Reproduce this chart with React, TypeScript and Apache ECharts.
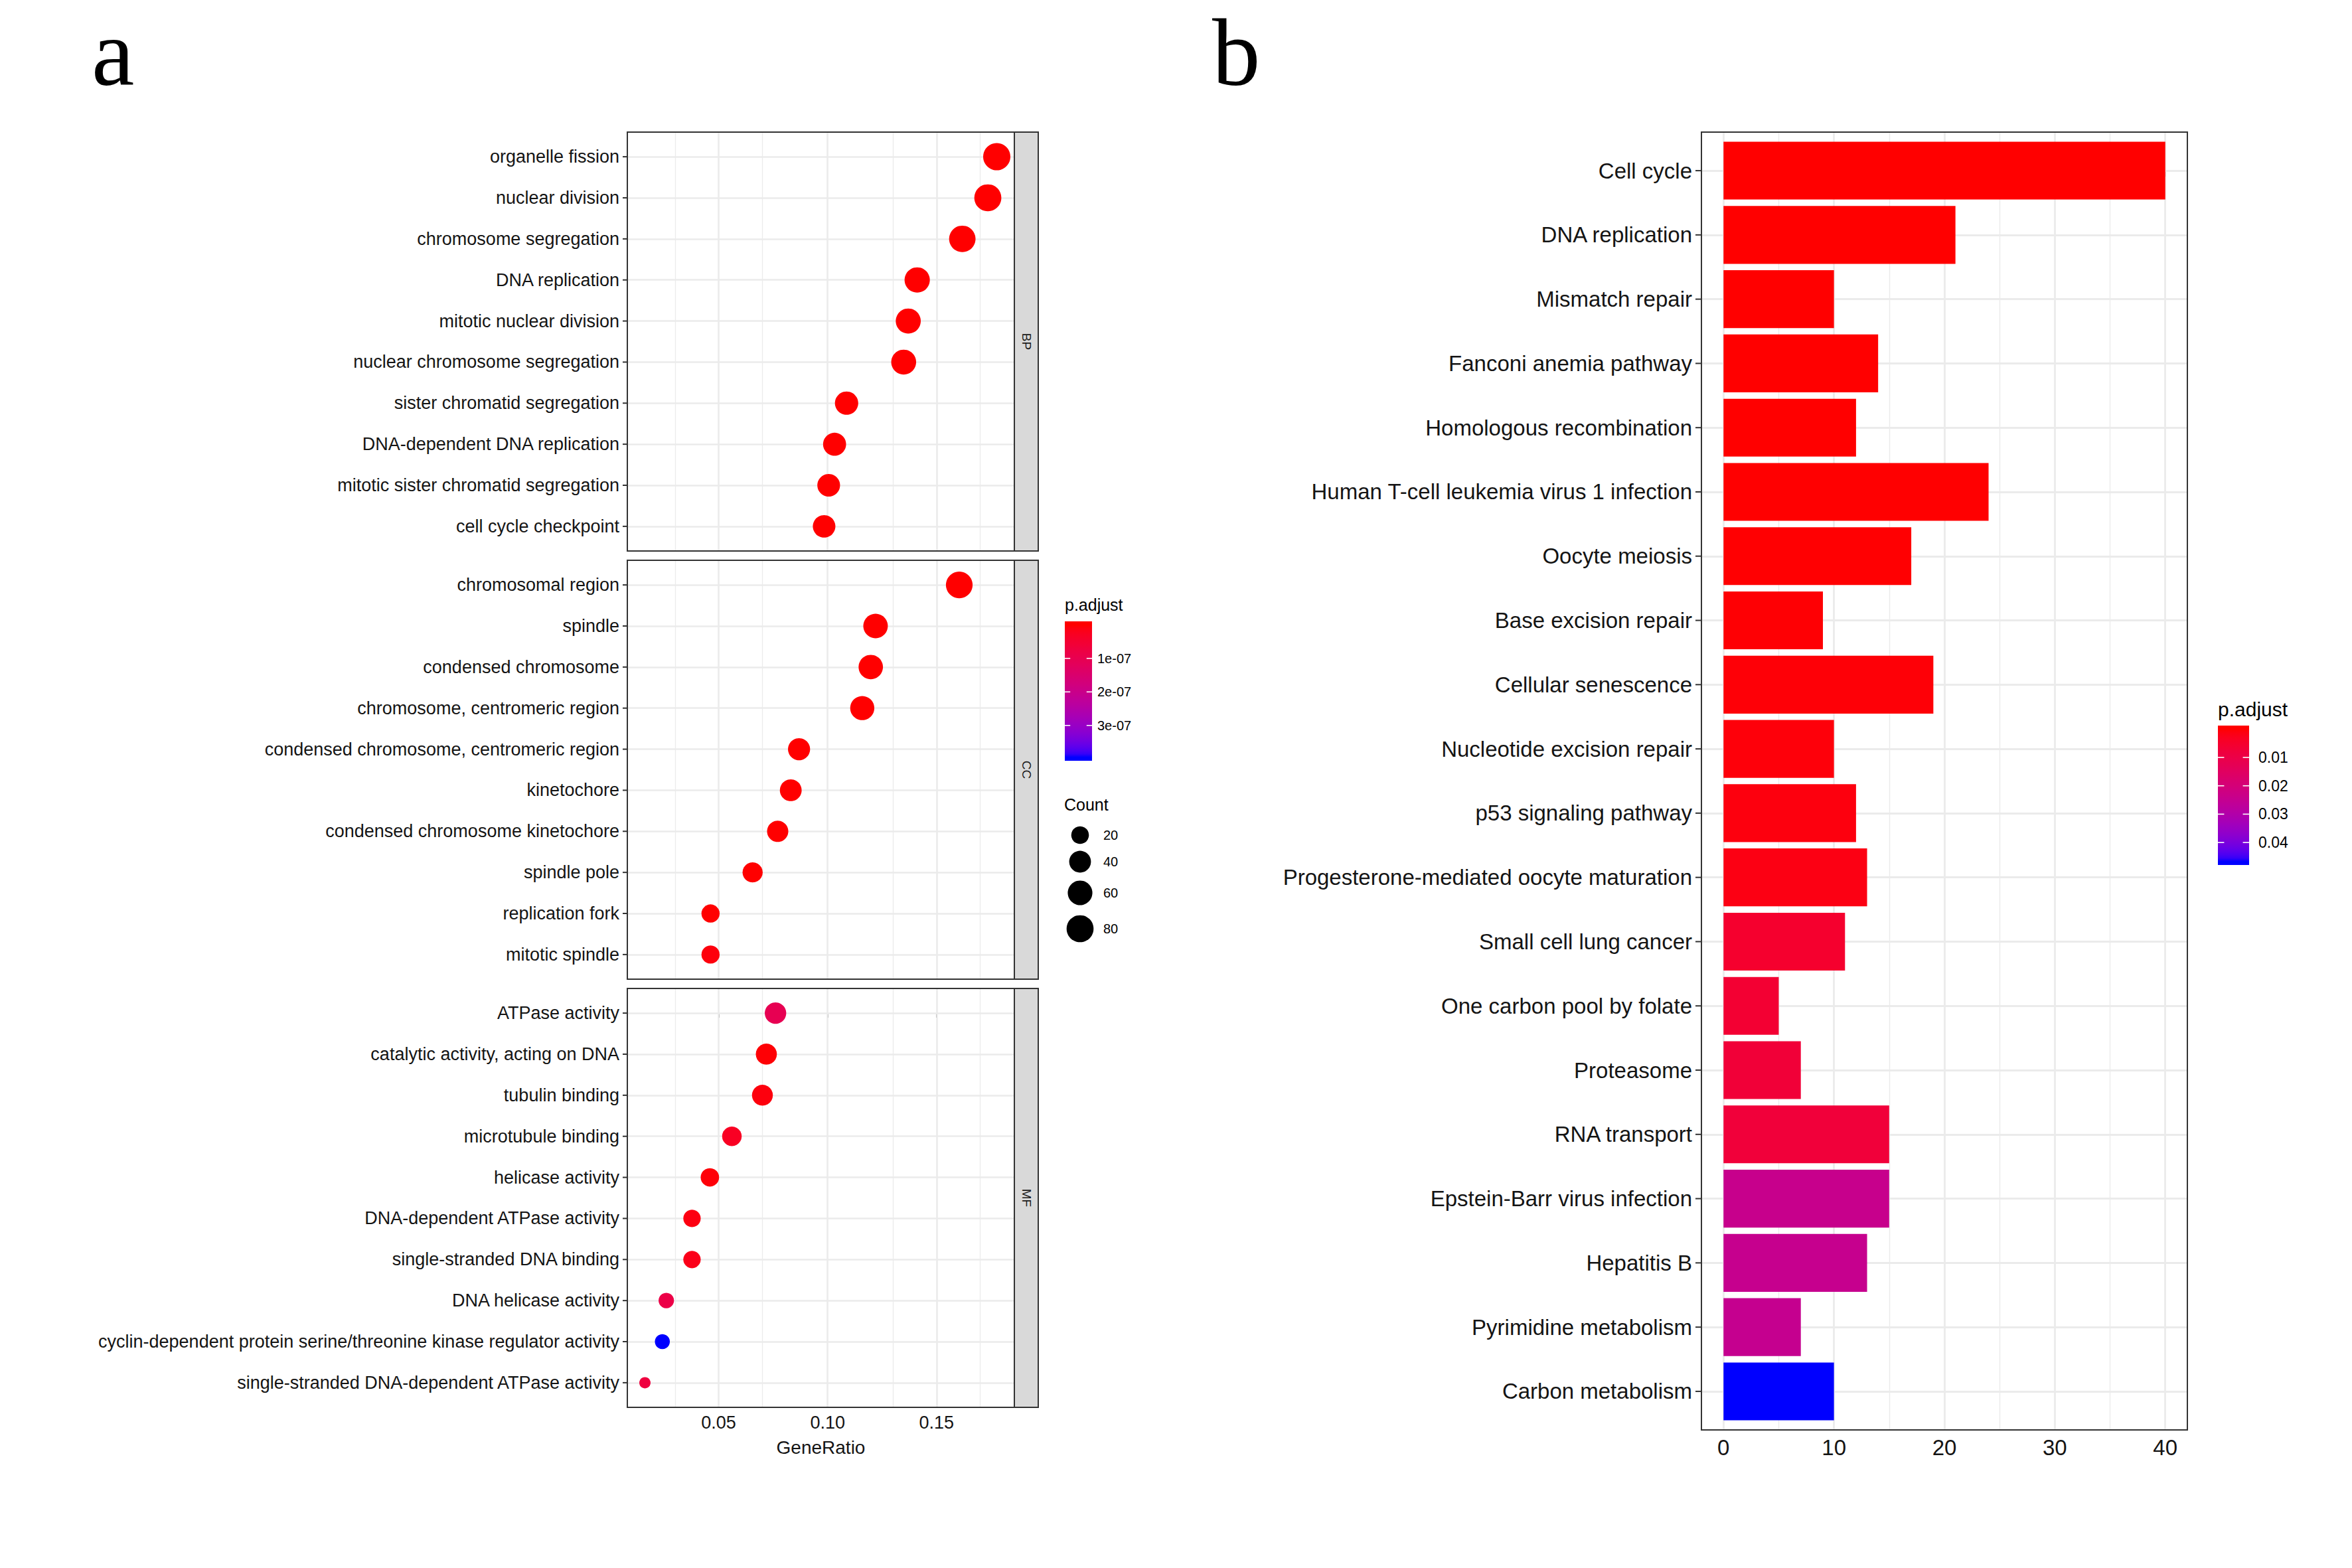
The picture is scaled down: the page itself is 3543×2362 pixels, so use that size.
import React, { useEffect, useRef } from "react";
import * as echarts from "echarts";

// ---------------- Data ----------------
const bpTerms = [
  "organelle fission",
  "nuclear division",
  "chromosome segregation",
  "DNA replication",
  "mitotic nuclear division",
  "nuclear chromosome segregation",
  "sister chromatid segregation",
  "DNA-dependent DNA replication",
  "mitotic sister chromatid segregation",
  "cell cycle checkpoint",
];
const bpGeneRatio = [0.1776, 0.1735, 0.1618, 0.1411, 0.137, 0.1349, 0.1087, 0.1032, 0.1005, 0.0984];
const bpCount = [82, 80, 75, 65, 63, 62, 50, 48, 46, 45];
const bpPadj = [2.1e-35, 3.5e-34, 1.2e-33, 4.4e-30, 6.8e-28, 1.5e-27, 3.3e-22, 2.8e-20, 7.1e-20, 5.2e-17];

const ccTerms = [
  "chromosomal region",
  "spindle",
  "condensed chromosome",
  "chromosome, centromeric region",
  "condensed chromosome, centromeric region",
  "kinetochore",
  "condensed chromosome kinetochore",
  "spindle pole",
  "replication fork",
  "mitotic spindle",
];
const ccGeneRatio = [0.1604, 0.122, 0.1198, 0.1159, 0.0869, 0.0831, 0.0771, 0.0656, 0.0463, 0.0463];
const ccCount = [77, 59, 58, 56, 42, 40, 37, 31, 22, 22];
const ccPadj = [8.9e-31, 2.4e-21, 4.6e-22, 1.9e-23, 3.1e-18, 6.5e-17, 2.2e-16, 4.7e-12, 1.3e-12, 8.1e-9];

const mfTerms = [
  "ATPase activity",
  "catalytic activity, acting on DNA",
  "tubulin binding",
  "microtubule binding",
  "helicase activity",
  "DNA-dependent ATPase activity",
  "single-stranded DNA binding",
  "DNA helicase activity",
  "cyclin-dependent protein serine/threonine kinase regulator activity",
  "single-stranded DNA-dependent ATPase activity",
];
const mfGeneRatio = [0.0761, 0.0719, 0.0701, 0.0561, 0.046, 0.0378, 0.0378, 0.026, 0.0242, 0.0162];
const mfCount = [38, 36, 35, 28, 23, 19, 19, 13, 12, 8];
const mfPadj = [1.02e-7, 3.2e-9, 8.4e-9, 3.0e-8, 5.5e-9, 1.2e-8, 1.9e-8, 8.4e-8, 3.95e-7, 7.0e-8];

const keggTerms = [
  "Cell cycle",
  "DNA replication",
  "Mismatch repair",
  "Fanconi anemia pathway",
  "Homologous recombination",
  "Human T-cell leukemia virus 1 infection",
  "Oocyte meiosis",
  "Base excision repair",
  "Cellular senescence",
  "Nucleotide excision repair",
  "p53 signaling pathway",
  "Progesterone-mediated oocyte maturation",
  "Small cell lung cancer",
  "One carbon pool by folate",
  "Proteasome",
  "RNA transport",
  "Epstein-Barr virus infection",
  "Hepatitis B",
  "Pyrimidine metabolism",
  "Carbon metabolism",
];
const keggCount = [40, 21, 10, 14, 12, 24, 17, 9, 19, 10, 12, 13, 11, 5, 7, 15, 15, 13, 7, 10];
const keggPadj = [
  2.0e-12, 1.5e-9, 8.0e-7, 6.0e-6, 1.5e-5, 4.0e-5, 1.6e-4, 3.5e-4, 5.5e-4, 7.5e-4,
  1.1e-3, 1.6e-3, 5.4e-3, 6.2e-3, 7.2e-3, 7.5e-3, 2.42e-2, 2.45e-2, 2.48e-2, 4.67e-2,
];

const geneRatioTicks = [0.05, 0.1, 0.15];
const geneRatioMinor = [0.025, 0.075, 0.125, 0.175];
const keggCountTicks = [0, 10, 20, 30, 40];
const keggCountMinor = [5, 15, 25, 35];
const goPadjTicks = [1e-7, 2e-7, 3e-7];
const goPadjTickLabels = ["1e-07", "2e-07", "3e-07"];
const keggPadjTicks = [0.01, 0.02, 0.03, 0.04];
const keggPadjTickLabels = ["0.01", "0.02", "0.03", "0.04"];
const countLegendValues = [20, 40, 60, 80];
const stripLabels = ["BP", "CC", "MF"];

// ---------------- Colour helpers (Lab interpolation like ggplot) ----------------
function srgbToLin(c: number) {
  c /= 255;
  return c <= 0.04045 ? c / 12.92 : Math.pow((c + 0.055) / 1.055, 2.4);
}
function linToSrgb(v: number) {
  v = Math.min(1, Math.max(0, v));
  const s = v <= 0.0031308 ? 12.92 * v : 1.055 * Math.pow(v, 1 / 2.4) - 0.055;
  return Math.round(Math.min(1, Math.max(0, s)) * 255);
}
const XN = 0.95047, YN = 1.0, ZN = 1.08883;
const fLab = (t: number) => (t > 0.008856 ? Math.cbrt(t) : 7.787 * t + 16 / 116);
const fInv = (t: number) => (t > 0.206893 ? t * t * t : (t - 16 / 116) / 7.787);
function hexToLab(h: string) {
  const n = parseInt(h.slice(1), 16);
  const R = srgbToLin((n >> 16) & 255), G = srgbToLin((n >> 8) & 255), B = srgbToLin(n & 255);
  const X = 0.4124 * R + 0.3576 * G + 0.1805 * B;
  const Y = 0.2126 * R + 0.7152 * G + 0.0722 * B;
  const Z = 0.0193 * R + 0.1192 * G + 0.9505 * B;
  const fx = fLab(X / XN), fy = fLab(Y / YN), fz = fLab(Z / ZN);
  return [116 * fy - 16, 500 * (fx - fy), 200 * (fy - fz)];
}
function labToHex(L: number, a: number, b: number) {
  const fy = (L + 16) / 116, fx = fy + a / 500, fz = fy - b / 200;
  const X = XN * fInv(fx), Y = YN * fInv(fy), Z = ZN * fInv(fz);
  const r = 3.2406 * X - 1.5372 * Y - 0.4986 * Z;
  const g = -0.9689 * X + 1.8758 * Y + 0.0415 * Z;
  const bb = 0.0557 * X - 0.204 * Y + 1.057 * Z;
  const hx = (v: number) => linToSrgb(v).toString(16).padStart(2, "0");
  return "#" + hx(r) + hx(g) + hx(bb);
}
function labRamp(from: string, to: string, n: number) {
  const A = hexToLab(from), B = hexToLab(to);
  const out: string[] = [];
  for (let i = 0; i < n; i++) {
    const t = i / (n - 1);
    out.push(labToHex(A[0] + (B[0] - A[0]) * t, A[1] + (B[1] - A[1]) * t, A[2] + (B[2] - A[2]) * t));
  }
  return out;
}
const RAMP = labRamp("#FF0000", "#0000FF", 41);

// ---------------- Layout ----------------
const W = 3543, H = 2362;
const SANS = "'Liberation Sans', Arial, Helvetica, sans-serif";
const SERIF = "'Liberation Serif', 'Times New Roman', serif";
const TXT = "#141414";
const BORDER = "#333333";
const GRIDC = "#EBEBEB";

const A_LEFT = 945, A_RIGHT = 1528, STRIP_R = 1564;
const A_TOPS = [199, 844, 1489];
const A_H = 631;
const B_LEFT = 2563, B_RIGHT = 3295, B_TOP = 199, B_BOTTOM = 2154;
const DISC_PAD = 0.6; // ggplot discrete expansion

const allCounts = [...bpCount, ...ccCount, ...mfCount];
const CMIN = Math.min(...allCounts), CMAX = Math.max(...allCounts);
const sizeOf = (c: number) => 17 + 24 * Math.sqrt(Math.max(0, c - CMIN) / (CMAX - CMIN));

const allRatios = [...bpGeneRatio, ...ccGeneRatio, ...mfGeneRatio];
const rMin = Math.min(...allRatios), rMax = Math.max(...allRatios);
const GR_MIN = rMin - 0.05 * (rMax - rMin), GR_MAX = rMax + 0.05 * (rMax - rMin);
const kMax = Math.max(...keggCount);
const KC_MIN = -0.05 * kMax, KC_MAX = kMax * 1.05;

const GO_PMAX = Math.max(...bpPadj, ...ccPadj, ...mfPadj);
const KEGG_PMAX = Math.max(...keggPadj);

const goPanels = [
  { terms: bpTerms, ratio: bpGeneRatio, count: bpCount, padj: bpPadj },
  { terms: ccTerms, ratio: ccGeneRatio, count: ccCount, padj: ccPadj },
  { terms: mfTerms, ratio: mfGeneRatio, count: mfCount, padj: mfPadj },
];

function gridLineSeries(axisIndex: number, lines: any[]) {
  return {
    type: "line",
    xAxisIndex: axisIndex,
    yAxisIndex: axisIndex,
    data: [],
    silent: true,
    z: 1,
    markLine: {
      silent: true,
      z: 1,
      symbol: ["none", "none"],
      label: { show: false },
      emphasis: { disabled: true },
      animation: false,
      data: lines,
    },
  };
}

// y-axis tick + label rendered through a scatter series at the axis position
function yLabelSeries(axisIndex: number, xMin: number, terms: string[], fontSize: number, tickLen: number, gap: number) {
  return {
    type: "scatter",
    xAxisIndex: axisIndex,
    yAxisIndex: axisIndex,
    silent: true,
    clip: false,
    z: 4,
    data: terms.map((_, i) => [xMin, i]),
    symbol: "rect",
    symbolSize: [tickLen, 2],
    symbolOffset: [-tickLen / 2, 0],
    itemStyle: { color: BORDER, opacity: 1 },
    label: {
      show: true,
      position: "left",
      distance: gap,
      formatter: (p: any) => terms[p.dataIndex],
      fontSize,
      fontFamily: SANS,
      color: TXT,
      opacity: 1,
    },
    emphasis: { disabled: true },
  };
}

function buildOption() {
  const grid: any[] = [];
  const xAxis: any[] = [];
  const yAxis: any[] = [];
  const series: any[] = [];
  const graphics: any[] = [];
  const scatterIdx: number[] = [];

  goPanels.forEach((p, k) => {
    const n = p.terms.length;
    grid.push({
      left: A_LEFT,
      top: A_TOPS[k],
      width: A_RIGHT - A_LEFT,
      height: A_H,
      containLabel: false,
      outerBoundsMode: "none",
    });
    const last = k === goPanels.length - 1;
    xAxis.push({
      type: "value",
      gridIndex: k,
      min: GR_MIN,
      max: GR_MAX,
      axisLine: { show: false },
      splitLine: { show: false },
      axisTick: {
        show: last,
        length: 7,
        lineStyle: { color: BORDER, width: 2 },
        customValues: geneRatioTicks,
      },
      axisLabel: {
        show: last,
        customValues: geneRatioTicks,
        fontSize: 27,
        color: TXT,
        margin: 9,
        fontFamily: SANS,
        formatter: (v: number) => (Math.abs(v / 0.05 - Math.round(v / 0.05)) < 1e-6 ? v.toFixed(2) : ""),
      },
    });
    yAxis.push({
      type: "value",
      gridIndex: k,
      inverse: true,
      min: -DISC_PAD,
      max: n - 1 + DISC_PAD,
      axisLine: { show: false },
      axisTick: { show: false },
      axisLabel: { show: false },
      splitLine: { show: false },
    });
    const lines: any[] = [];
    geneRatioMinor.forEach((v) => lines.push({ xAxis: v, lineStyle: { width: 1.3, color: GRIDC, type: "solid" } }));
    geneRatioTicks.forEach((v) => lines.push({ xAxis: v, lineStyle: { width: 2.6, color: GRIDC, type: "solid" } }));
    p.terms.forEach((_, i) => lines.push({ yAxis: i, lineStyle: { width: 2.6, color: GRIDC, type: "solid" } }));
    series.push(gridLineSeries(k, lines));
    scatterIdx.push(series.length);
    series.push({
      type: "scatter",
      xAxisIndex: k,
      yAxisIndex: k,
      z: 3,
      data: p.terms.map((_, i) => [p.ratio[i], i, p.count[i], p.padj[i]]),
      symbol: "circle",
      symbolSize: (v: number[]) => sizeOf(v[2]),
      itemStyle: { opacity: 1 },
      encode: { x: 0, y: 1 },
    });
    series.push(yLabelSeries(k, GR_MIN, p.terms, 27, 7, 5));

    // frame + strip
    graphics.push({
      type: "rect",
      shape: { x: A_LEFT, y: A_TOPS[k], width: A_RIGHT - A_LEFT, height: A_H },
      style: { fill: "none", stroke: BORDER, lineWidth: 2 },
      z: 10,
    });
    graphics.push({
      type: "rect",
      shape: { x: A_RIGHT, y: A_TOPS[k], width: STRIP_R - A_RIGHT, height: A_H },
      style: { fill: "#D9D9D9", stroke: BORDER, lineWidth: 2 },
      z: 10,
    });
    graphics.push({
      type: "text",
      x: (A_RIGHT + STRIP_R) / 2,
      y: A_TOPS[k] + A_H / 2,
      rotation: -Math.PI / 2,
      style: {
        text: stripLabels[k],
        font: `19px ${SANS}`,
        fill: "#1A1A1A",
        align: "center",
        verticalAlign: "middle",
      },
      z: 11,
    });
  });

  // ---------- Panel b ----------
  const nb = keggTerms.length;
  const gb = grid.length;
  grid.push({
    left: B_LEFT,
    top: B_TOP,
    width: B_RIGHT - B_LEFT,
    height: B_BOTTOM - B_TOP,
    containLabel: false,
    outerBoundsMode: "none",
  });
  xAxis.push({
    type: "value",
    gridIndex: gb,
    min: KC_MIN,
    max: KC_MAX,
    axisLine: { show: false },
    splitLine: { show: false },
    axisTick: { show: true, length: 9, lineStyle: { color: BORDER, width: 2 }, customValues: keggCountTicks },
    axisLabel: {
      customValues: keggCountTicks,
      fontSize: 33,
      color: TXT,
      margin: 10,
      fontFamily: SANS,
      formatter: (v: number) => (Math.abs(v / 10 - Math.round(v / 10)) < 1e-6 ? String(Math.round(v)) : ""),
    },
  });
  yAxis.push({
    type: "value",
    gridIndex: gb,
    inverse: true,
    min: -DISC_PAD,
    max: nb - 1 + DISC_PAD,
    axisLine: { show: false },
    axisTick: { show: false },
    axisLabel: { show: false },
    splitLine: { show: false },
  });
  const linesB: any[] = [];
  keggCountMinor.forEach((v) => linesB.push({ xAxis: v, lineStyle: { width: 1.4, color: GRIDC, type: "solid" } }));
  keggCountTicks.forEach((v) => linesB.push({ xAxis: v, lineStyle: { width: 2.8, color: GRIDC, type: "solid" } }));
  keggTerms.forEach((_, i) => linesB.push({ yAxis: i, lineStyle: { width: 2.8, color: GRIDC, type: "solid" } }));
  series.push(gridLineSeries(gb, linesB));
  const barIdx = series.length;
  series.push({
    type: "custom",
    xAxisIndex: gb,
    yAxisIndex: gb,
    z: 3,
    data: keggTerms.map((_, i) => [keggCount[i], i, keggPadj[i]]),
    encode: { x: 0, y: 1 },
    renderItem: (params: any, api: any) => {
      const v = api.value(0);
      const i = api.value(1);
      const p0 = api.coord([0, i - 0.45]);
      const p1 = api.coord([v, i + 0.45]);
      return {
        type: "rect",
        shape: {
          x: p0[0],
          y: Math.min(p0[1], p1[1]),
          width: p1[0] - p0[0],
          height: Math.abs(p1[1] - p0[1]),
        },
        style: { fill: api.visual("color") },
      };
    },
  });
  series.push(yLabelSeries(gb, KC_MIN, keggTerms, 33, 9, 5));
  graphics.push({
    type: "rect",
    shape: { x: B_LEFT, y: B_TOP, width: B_RIGHT - B_LEFT, height: B_BOTTOM - B_TOP },
    style: { fill: "none", stroke: BORDER, lineWidth: 2 },
    z: 10,
  });

  // ---------- Panel letters ----------
  graphics.push({
    type: "text",
    x: 138,
    y: 79,
    style: { text: "a", font: `145px ${SERIF}`, fill: "#000", align: "left", verticalAlign: "middle" },
  });
  graphics.push({
    type: "text",
    x: 1826,
    y: 79,
    style: { text: "b", font: `145px ${SERIF}`, fill: "#000", align: "left", verticalAlign: "middle" },
  });

  // GeneRatio title
  graphics.push({
    type: "text",
    x: (A_LEFT + A_RIGHT) / 2,
    y: 2180,
    style: { text: "GeneRatio", font: `28px ${SANS}`, fill: TXT, align: "center", verticalAlign: "middle" },
  });

  // ---------- Colour bar legends (ggplot colourbar: 20 bins, half-bin margins) ----------
  const NBIN = 20;
  const gradient = () =>
    new echarts.graphic.LinearGradient(
      0, 0, 0, 1,
      RAMP.map((c, i) => ({ offset: (0.5 + (NBIN - 1) * (i / (RAMP.length - 1))) / NBIN, color: c }))
    );
  const colorBar = (
    x: number, y: number, w: number, h: number, max: number,
    ticks: number[], labels: string[], title: string, titleY: number,
    titleSize: number, labelSize: number, labelGap: number
  ) => {
    graphics.push({
      type: "text", x, y: titleY,
      style: { text: title, font: `${titleSize}px ${SANS}`, fill: "#000", align: "left", verticalAlign: "middle" },
    });
    graphics.push({ type: "rect", shape: { x, y, width: w, height: h }, style: { fill: gradient() } });
    ticks.forEach((v, i) => {
      const ty = y + ((0.5 + (NBIN - 1) * (v / max)) / NBIN) * h;
      graphics.push({ type: "line", shape: { x1: x, y1: ty, x2: x + w / 5, y2: ty }, style: { stroke: "#fff", lineWidth: 1.6 } });
      graphics.push({ type: "line", shape: { x1: x + w - w / 5, y1: ty, x2: x + w, y2: ty }, style: { stroke: "#fff", lineWidth: 1.6 } });
      graphics.push({
        type: "text", x: x + w + labelGap, y: ty,
        style: { text: labels[i], font: `${labelSize}px ${SANS}`, fill: "#000", align: "left", verticalAlign: "middle" },
      });
    });
  };
  colorBar(1604, 936, 41, 210, GO_PMAX, goPadjTicks, goPadjTickLabels, "p.adjust", 911, 25, 20, 8);
  colorBar(3341, 1093, 47, 210, KEGG_PMAX, keggPadjTicks, keggPadjTickLabels, "p.adjust", 1068, 30, 23, 14);

  // Count legend
  graphics.push({
    type: "text", x: 1603, y: 1212,
    style: { text: "Count", font: `25px ${SANS}`, fill: "#000", align: "left", verticalAlign: "middle" },
  });
  const keyY = [1258, 1298, 1345, 1399];
  countLegendValues.forEach((v, i) => {
    graphics.push({ type: "circle", shape: { cx: 1627, cy: keyY[i], r: sizeOf(v) / 2 }, style: { fill: "#000" } });
    graphics.push({
      type: "text", x: 1662, y: keyY[i],
      style: { text: String(v), font: `20px ${SANS}`, fill: "#000", align: "left", verticalAlign: "middle" },
    });
  });

  return {
    animation: false,
    backgroundColor: "#ffffff",
    textStyle: { fontFamily: SANS },
    grid,
    xAxis,
    yAxis,
    visualMap: [
      {
        type: "continuous",
        show: false,
        seriesIndex: scatterIdx,
        dimension: 3,
        min: 0,
        max: GO_PMAX,
        inRange: { color: RAMP },
      },
      {
        type: "continuous",
        show: false,
        seriesIndex: [barIdx],
        dimension: 2,
        min: 0,
        max: KEGG_PMAX,
        inRange: { color: RAMP },
      },
    ],
    series,
    graphic: { elements: graphics },
  };
}

export default function App() {
  const ref = useRef<HTMLDivElement>(null);
  useEffect(() => {
    if (!ref.current) return;
    const chart = echarts.init(ref.current, null, { renderer: "svg", width: W, height: H });
    chart.setOption(buildOption() as any);
    return () => chart.dispose();
  }, []);
  return (
    <div
      ref={ref}
      style={{ position: "absolute", left: 0, top: 0, width: W, height: H, background: "#fff" }}
    />
  );
}
